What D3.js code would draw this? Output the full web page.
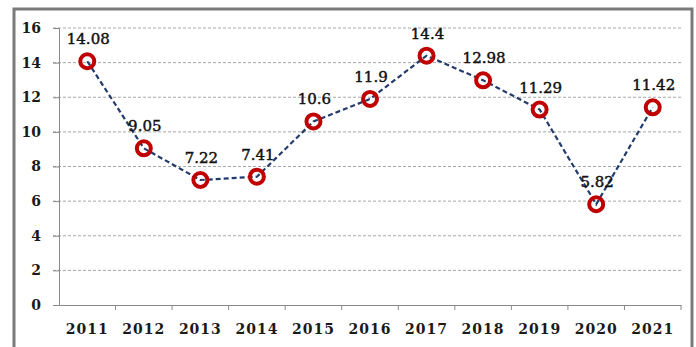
<!DOCTYPE html>
<html>
<head>
<meta charset="utf-8">
<script src="https://cdn.jsdelivr.net/npm/d3@7"></script>
<style>
  body { margin: 0; background: #fff; }
  svg text { font-family: "DejaVu Serif", serif; font-weight: bold; fill: #1a1a1a; }
  svg text.lbl { font-weight: normal; fill: #111; stroke: #111; stroke-width: 0.45px; }
</style>
</head>
<body>
<div id="viz"></div>
<script>
// data
var years = ["2011","2012","2013","2014","2015","2016","2017","2018","2019","2020","2021"];
var values = [14.08, 9.05, 7.22, 7.41, 10.6, 11.9, 14.4, 12.98, 11.29, 5.82, 11.42];
var yTicks = [0, 2, 4, 6, 8, 10, 12, 14, 16];

var W = 696, H = 347;
var plotL = 59, plotR = 681, plotT = 28, plotB = 305;

var svg = d3.select("#viz").append("svg")
  .attr("width", W)
  .attr("height", H);

// outer frame (bottom edge runs off the picture)
svg.append("rect")
  .attr("x", 14).attr("y", 9)
  .attr("width", 678).attr("height", 360)
  .attr("fill", "#fff")
  .attr("stroke", "#7a7a7a")
  .attr("stroke-width", 3);

var x = d3.scaleBand().domain(years).range([plotL, plotR]);
var y = d3.scaleLinear().domain([0, 16]).range([plotB, plotT]);

// gridlines
svg.selectAll("line.grid")
  .data(yTicks.filter(function (d) { return d > 0; }))
  .enter().append("line")
  .attr("class", "grid")
  .attr("x1", plotL - 6).attr("x2", plotR)
  .attr("y1", function (d) { return y(d); })
  .attr("y2", function (d) { return y(d); })
  .attr("stroke", "#a6a6a6")
  .attr("stroke-width", 1)
  .attr("stroke-dasharray", "3,2");

// y axis
var yAxis = svg.append("g")
  .attr("transform", "translate(" + plotL + ",0)")
  .call(d3.axisLeft(y).tickValues(yTicks).tickSize(6).tickPadding(12));
yAxis.select(".domain").attr("stroke", "#8a8a8a");
yAxis.selectAll(".tick line").attr("stroke", "#8a8a8a");
yAxis.selectAll("text").style("font-size", "14px");

// x axis, ticks on the category boundaries
var xAxis = svg.append("g")
  .attr("transform", "translate(0," + plotB + ")")
  .call(d3.axisBottom(x).tickSize(0).tickPadding(19));
xAxis.select(".domain").attr("stroke", "#8a8a8a");
xAxis.selectAll("text").style("font-size", "14px").style("letter-spacing", "1px");

svg.selectAll("line.xtick")
  .data(years)
  .enter().append("line")
  .attr("class", "xtick")
  .attr("x1", function (d) { return x(d) + x.bandwidth(); })
  .attr("x2", function (d) { return x(d) + x.bandwidth(); })
  .attr("y1", plotB).attr("y2", plotB + 5)
  .attr("stroke", "#8a8a8a");

var cx = function (d, i) { return x(years[i]) + x.bandwidth() / 2; };

// dashed line
var line = d3.line()
  .x(function (d, i) { return cx(d, i); })
  .y(function (d) { return y(d); });

svg.append("path")
  .datum(values)
  .attr("d", line)
  .attr("fill", "none")
  .attr("stroke", "#243b6b")
  .attr("stroke-width", 2.2)
  .attr("stroke-dasharray", "5,3");

// ring markers
svg.selectAll("circle.pt")
  .data(values)
  .enter().append("circle")
  .attr("class", "pt")
  .attr("cx", cx)
  .attr("cy", function (d) { return y(d); })
  .attr("r", 7)
  .attr("fill", "none")
  .attr("stroke", "#c00000")
  .attr("stroke-width", 4);

// value labels
svg.selectAll("text.lbl")
  .data(values)
  .enter().append("text")
  .attr("class", "lbl")
  .attr("x", function (d, i) { return cx(d, i) + 1; })
  .attr("y", function (d) { return y(d) - 17; })
  .attr("text-anchor", "middle")
  .style("font-size", "15px")
  .text(function (d) { return d; });
</script>
</body>
</html>
